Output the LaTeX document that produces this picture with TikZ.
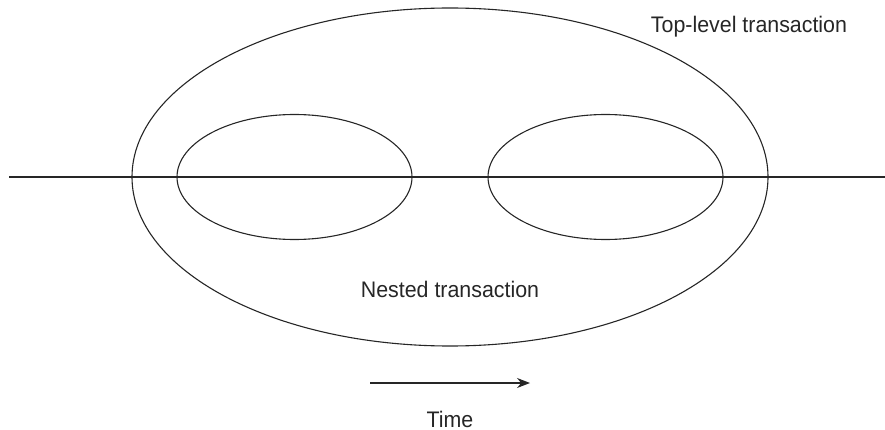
\documentclass[tikz,border=0pt]{standalone}
\usepackage{fontspec}
\setmainfont{Liberation Sans}[FakeStretch=0.95]
\usetikzlibrary{shapes.geometric,arrows.meta}
\begin{document}
\begin{tikzpicture}[x=1pt,y=-1pt,
  ell/.style={draw=black!85,line width=1.1pt,ellipse,inner sep=0pt,outer sep=0pt},
  lbl/.style={anchor=base,font=\fontsize{22.5}{26}\selectfont,text=black!85,inner sep=0pt},
  ln/.style={draw=black!85,line width=1.1pt}]
\useasboundingbox (0,0) rectangle (885,430);
\node[ell,minimum width=636pt,minimum height=338pt] (big) at (450,177) {};
\node[ell,minimum width=235pt,minimum height=125pt] (left) at (294.5,177) {};
\node[ell,minimum width=235pt,minimum height=125pt] (right) at (605.5,177) {};
\coordinate (ls) at (9,177);
\coordinate (le) at (885,177);
\draw[ln] (ls) -- (le);
\node[lbl] (top) at (749,33) {Top-level transaction};
\node[lbl] (nested) at (450,297) {Nested transaction};
\coordinate (as) at (370,383);
\coordinate (ae) at (530,383);
\draw[ln,-{Stealth[length=13pt,width=10pt]}] (as) -- (ae);
\node[lbl] (time) at (450,427) {Time};
\end{tikzpicture}
\end{document}
